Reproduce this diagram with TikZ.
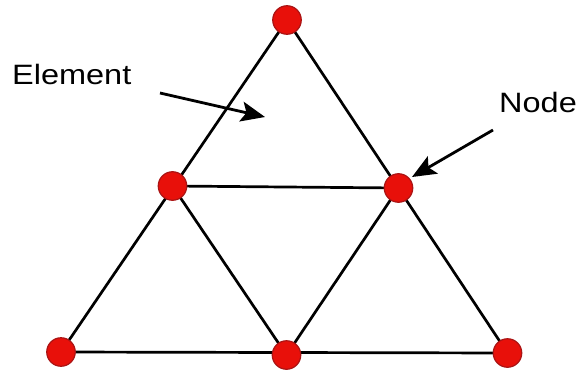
\documentclass[tikz,border=0pt]{standalone}
\usepackage{fontspec}
\usepackage{graphicx}
\setmainfont{Liberation Sans}
\usetikzlibrary{arrows.meta}
\definecolor{nodefill}{RGB}{232,16,10}
\definecolor{nodeedge}{RGB}{170,20,20}
\tikzset{
  meshnode/.style={circle, fill=nodefill, draw=nodeedge, line width=1.2pt, minimum size=28.5pt, inner sep=0pt},
  edgeline/.style={line width=2.7pt, black},
  pointer/.style={line width=2.8pt, black, -{Stealth[length=24pt, width=20pt, inset=5pt]}},
  lbl/.style={font=\fontsize{28}{31}\selectfont, inner sep=0pt}
}
\begin{document}
\begin{tikzpicture}[x=1pt, y=-1pt]
\useasboundingbox (0,0) rectangle (582,375);
\coordinate (t) at (287,20);
\coordinate (ml) at (172.5,186);
\coordinate (mr) at (398.5,188);
\coordinate (bl) at (61,352);
\coordinate (bm) at (286.5,355);
\coordinate (br) at (507.5,353);
\draw[edgeline] (t) -- (bl) -- (br) -- cycle;
\draw[edgeline] (ml) -- (mr) -- (bm) -- cycle;
\foreach \n in {t,ml,mr,bl,bm,br} \node[meshnode] (n\n) at (\n) {};
\node[lbl, anchor=west] (elabel) at (12,74) {\scalebox{1.16}[1]{Element}};
\node[lbl, anchor=west] (nlabel) at (499,102) {\scalebox{1.16}[1]{Node}};
\coordinate (es) at (160,93);
\coordinate (ee) at (265,117);
\coordinate (ns) at (493,130);
\coordinate (ne) at (412,177);
\draw[pointer] (es) -- (ee);
\draw[pointer] (ns) -- (ne);
\end{tikzpicture}
\end{document}
